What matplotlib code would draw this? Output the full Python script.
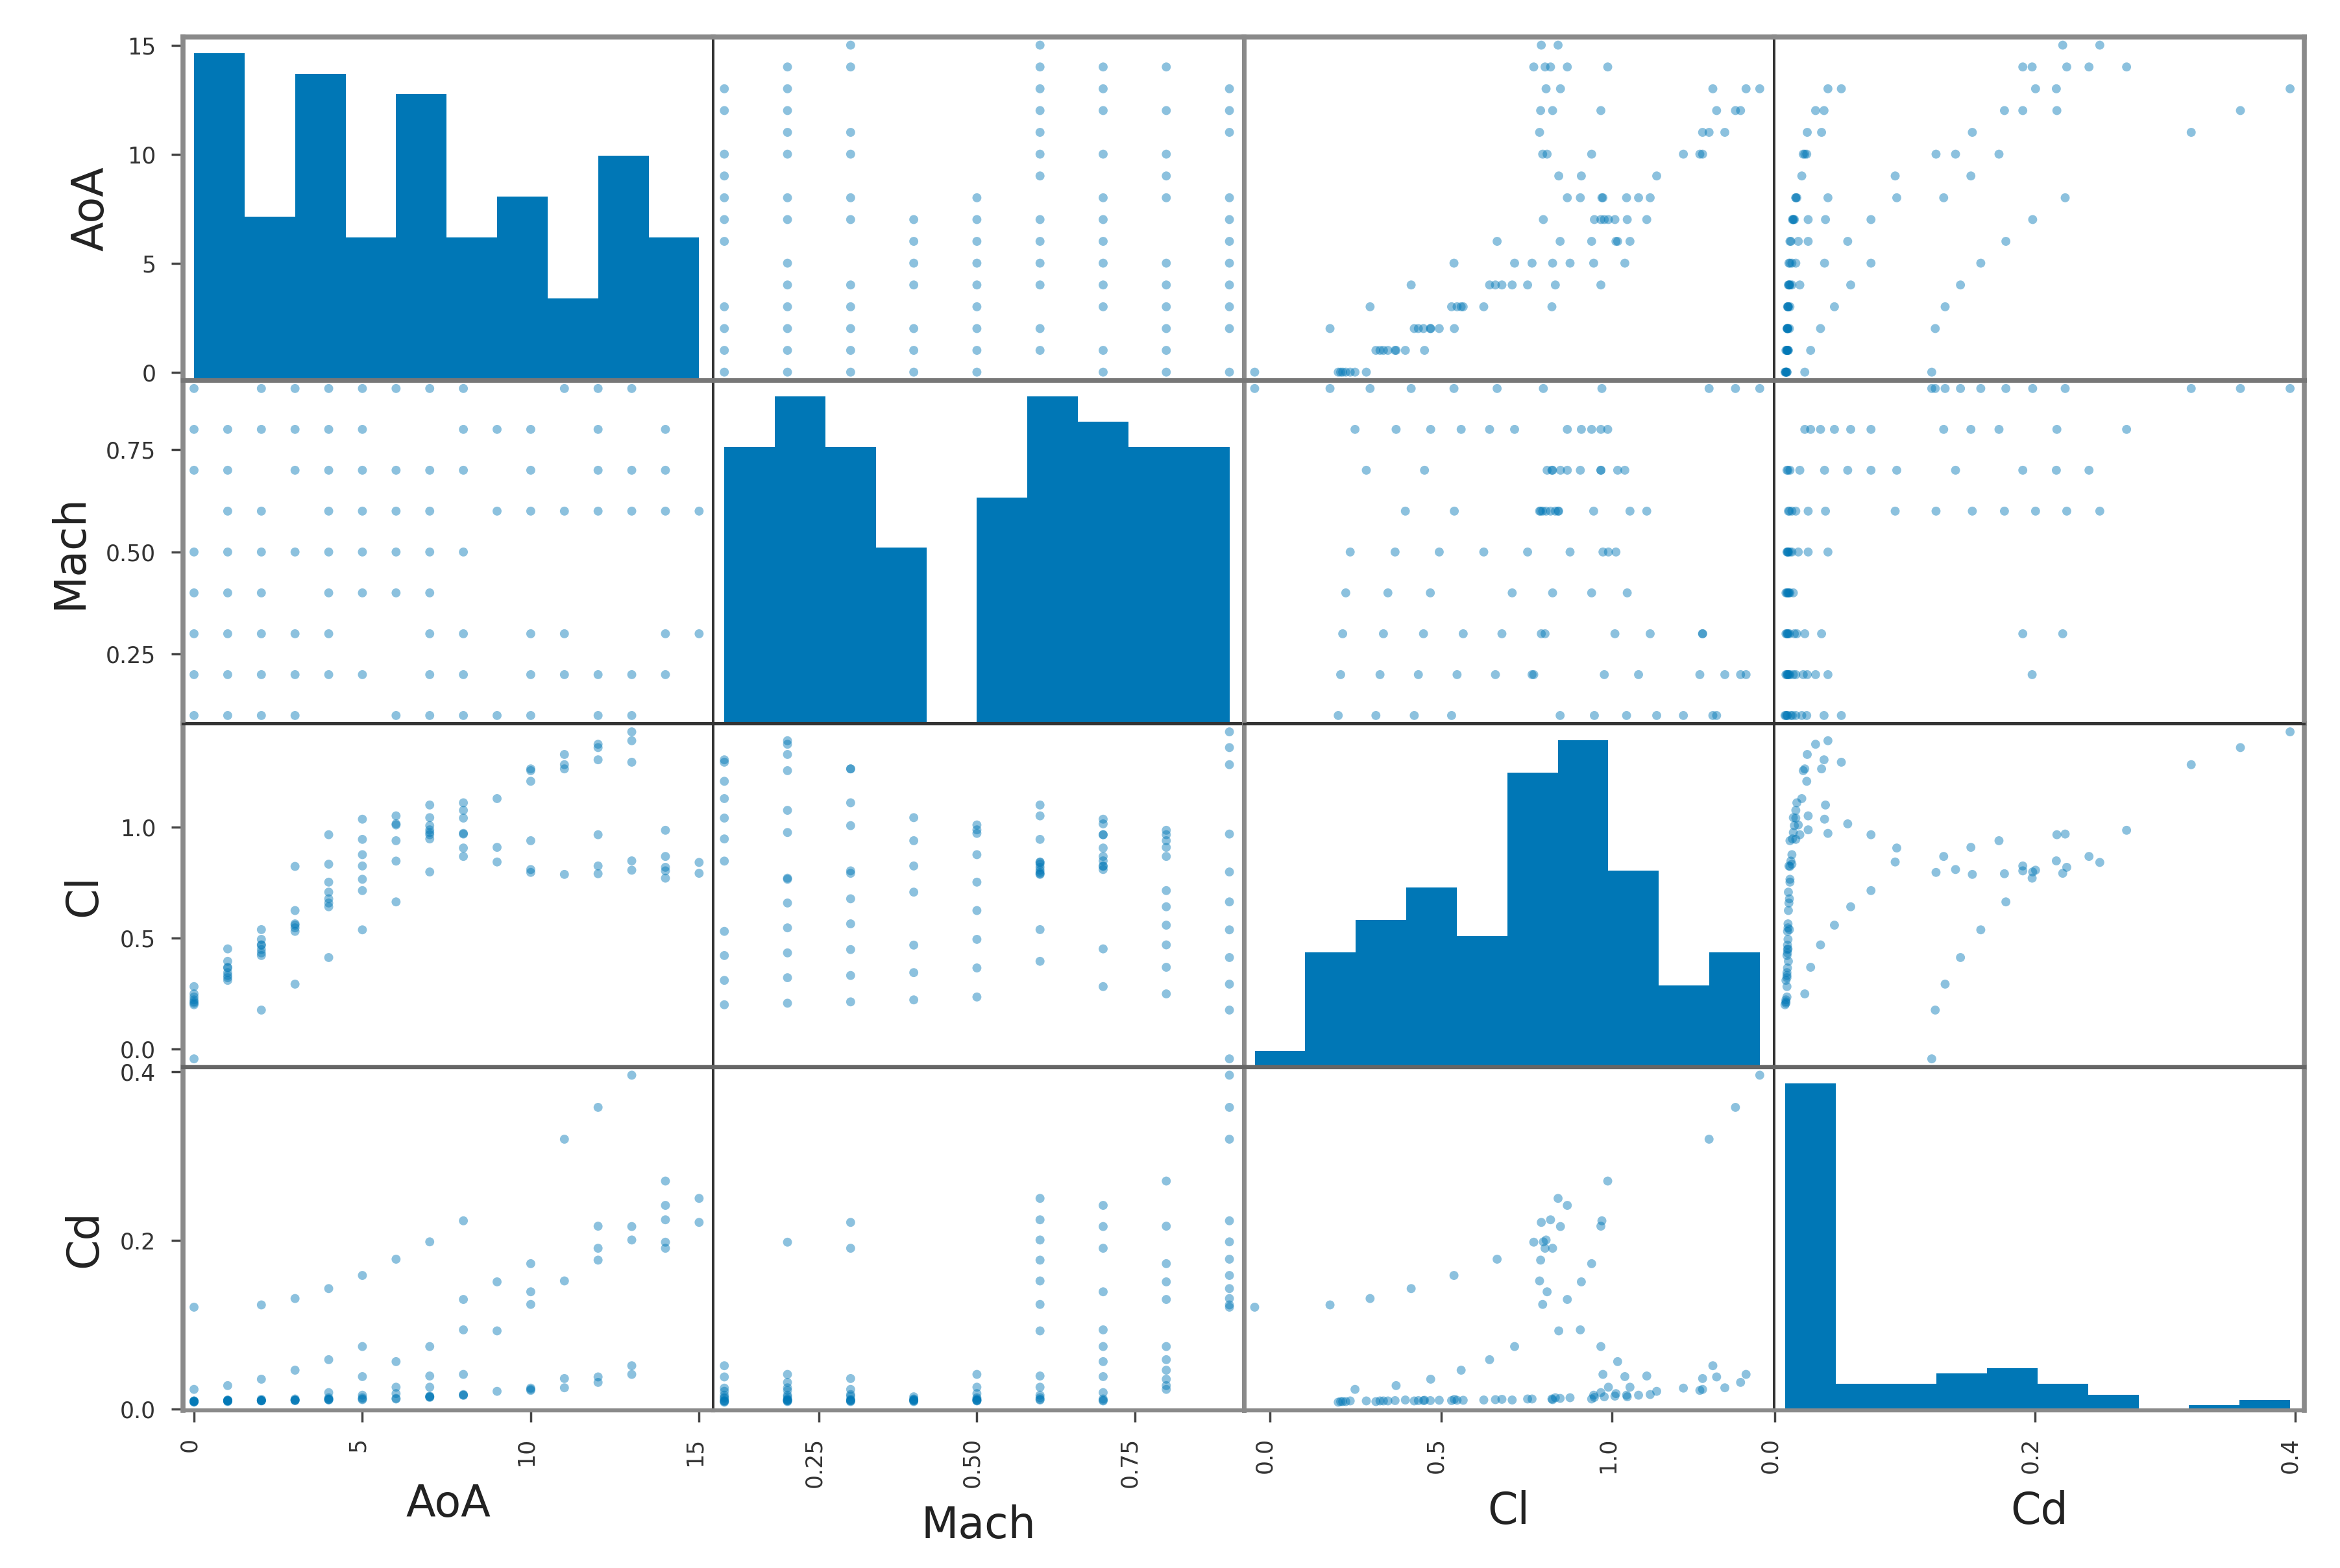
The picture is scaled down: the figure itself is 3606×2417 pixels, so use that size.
import matplotlib
matplotlib.use('Agg')
import matplotlib.pyplot as plt
from matplotlib.transforms import ScaledTranslation
import numpy as np

names = ['AoA', 'Mach', 'Cl', 'Cd']

aoa = [0, 2, 3, 4, 5, 6, 7, 8, 11, 12, 13,
       0, 1, 2, 3, 4, 5, 8, 9, 10, 12, 14,
       0, 1, 3, 4, 5, 6, 7, 8, 10, 12, 13, 14,
       1, 2, 4, 5, 6, 7, 9, 10, 11, 12, 13, 14, 15,
       0, 1, 2, 3, 4, 5, 6, 7, 8,
       0, 1, 2, 4, 5, 6, 7,
       0, 1, 2, 3, 4, 7, 8, 10, 11, 14, 15,
       0, 1, 2, 3, 4, 5, 7, 8, 10, 11, 12, 13, 14,
       0, 1, 2, 3, 6, 7, 8, 9, 10, 12, 13]

mach = [0.9] * 11 + [0.8] * 11 + [0.7] * 12 + [0.6] * 13 + [0.5] * 9 + [0.4] * 7 + [0.3] * 11 + [0.2] * 13 + [0.1] * 11

cl = [-.044, .176, .293, .413, .538, .664, .799, .970, 1.283, 1.360, 1.431,
      .249, .369, .470, .559, .642, .715, .869, .910, .940, .967, .987,
      .282, .452, .824, .967, 1.037, 1.016, .967, .907, .810, .826, .849, .869,
      .396, .539, .834, .946, 1.052, 1.101, .844, .797, .788, .791, .807, .820, .842,
      .235, .366, .495, .625, .753, .877, 1.011, .989, .973,
      .222, .345, .469, .708, .826, .940, 1.044,
      .213, .332, .449, .565, .678, 1.008, 1.111, 1.264, 1.264, .804, .793,
      .207, .322, .434, .547, .659, .766, .977, 1.077, 1.256, 1.329, 1.375, 1.391, .771,
      .200, .310, .422, .531, .848, .948, 1.042, 1.130, 1.208, 1.305, 1.294]

cd = [.1207, .1234, .1310, .1428, .1584, .1777, .1983, .2233, .3202, .3580, .3962,
      .0231, .0276, .0352, .0459, .0584, .0740, .1299, .1508, .1724, .2169, .2705,
      .0094, .0102, .0117, .0193, .0383, .0561, .0740, .0938, .1390, .1907, .2165, .2416,
      .0105, .0113, .0132, .0162, .0257, .0390, .0926, .1240, .1519, .1766, .2005, .2245, .2499,
      .0094, .0098, .0102, .0105, .0117, .0132, .0181, .0257, .0409,
      .0086, .0094, .0098, .0105, .0109, .0117, .0143,
      .0086, .0094, .0098, .0102, .0113, .0151, .0170, .0231, .0360, .1907, .2214,
      .0086, .0094, .0098, .0102, .0109, .0117, .0143, .0162, .0219, .0250, .0314, .0409, .1979,
      .0079, .0086, .0094, .0098, .0124, .0136, .0162, .0208, .0246, .0379, .0512]

tick_vals = [[0, 5, 10, 15], [0.25, 0.50, 0.75], [0.0, 0.5, 1.0], [0.0, 0.2, 0.4]]
tick_text = [['0', '5', '10', '15'], ['0.25', '0.50', '0.75'], ['0.0', '0.5', '1.0'], ['0.0', '0.2', '0.4']]

BLUE = '#0077b6'
GREY = '#8a8a8a'
DARK = '#333333'
FS_TICK = 25
FS_LABEL = 48
W, H = 3606, 2417

# frame line style per grid boundary (colour, width in pt)
v_lines = [(GREY, 5.5), (DARK, 2.8), (GREY, 5), (DARK, 2.8), (GREY, 5.5)]
h_lines = [(GREY, 5.5), ('#777777', 5), (DARK, 3), ('#666666', 4.5), (GREY, 4.5)]

data = [np.array(aoa), np.array(mach), np.array(cl), np.array(cd)]
lims = []
for d in data:
    pad = (d.max() - d.min()) * 0.05 / 2
    lims.append((d.min() - pad, d.max() + pad))

fig, axes = plt.subplots(4, 4, figsize=(W / 100, H / 100), dpi=100)
fig.subplots_adjust(left=282 / W, right=3551 / W, top=1 - 57 / H, bottom=1 - 2174 / H, wspace=0, hspace=0)

# tick labels sit a few pixels left of their ticks in the original
label_shift = ScaledTranslation(-7 / 100, 0, fig.dpi_scale_trans)

for i in range(4):
    for j in range(4):
        ax = axes[i, j]
        if i == j:
            ax.hist(data[j], bins=10, color=BLUE)
        else:
            ax.scatter(data[j], data[i], s=100, color=BLUE, alpha=0.45, edgecolors='none')
            ax.set_ylim(lims[i])
        x_off = (lims[j][1] - lims[j][0]) * 0.003
        ax.set_xlim(lims[j][0] + x_off, lims[j][1] + x_off)

        ax.spines['left'].set(color=v_lines[j][0], linewidth=v_lines[j][1])
        ax.spines['right'].set(color=v_lines[j + 1][0], linewidth=v_lines[j + 1][1])
        ax.spines['top'].set(color=h_lines[i][0], linewidth=h_lines[i][1])
        ax.spines['bottom'].set(color=h_lines[i + 1][0], linewidth=h_lines[i + 1][1])

        ax.tick_params(length=13, width=2.5, color='#444444', labelsize=FS_TICK, labelcolor='#333333', pad=17)
        ax.set_xticks([])
        ax.set_yticks([])

        if i == 3:
            ax.set_xticks(tick_vals[j])
            ax.set_xticklabels(tick_text[j], rotation=90)
            for lbl in ax.get_xticklabels():
                lbl.set_transform(lbl.get_transform() + label_shift)
            ax.set_xlabel(names[j], fontsize=FS_LABEL, labelpad=19, color='#222222')
        if j == 0:
            if i == 0:
                # first panel is a histogram, its ticks are placed as if it had the data's scale
                frac = (np.array(tick_vals[0]) - lims[0][0]) / (lims[0][1] - lims[0][0])
                y0, y1 = ax.get_ylim()
                ax.set_yticks(y0 + frac * (y1 - y0))
            else:
                ax.set_yticks(tick_vals[i])
            ax.set_yticklabels(tick_text[i])
            ax.set_ylabel(names[i], fontsize=FS_LABEL, labelpad=16, color='#222222')

fig.savefig('out.png', dpi=100)
